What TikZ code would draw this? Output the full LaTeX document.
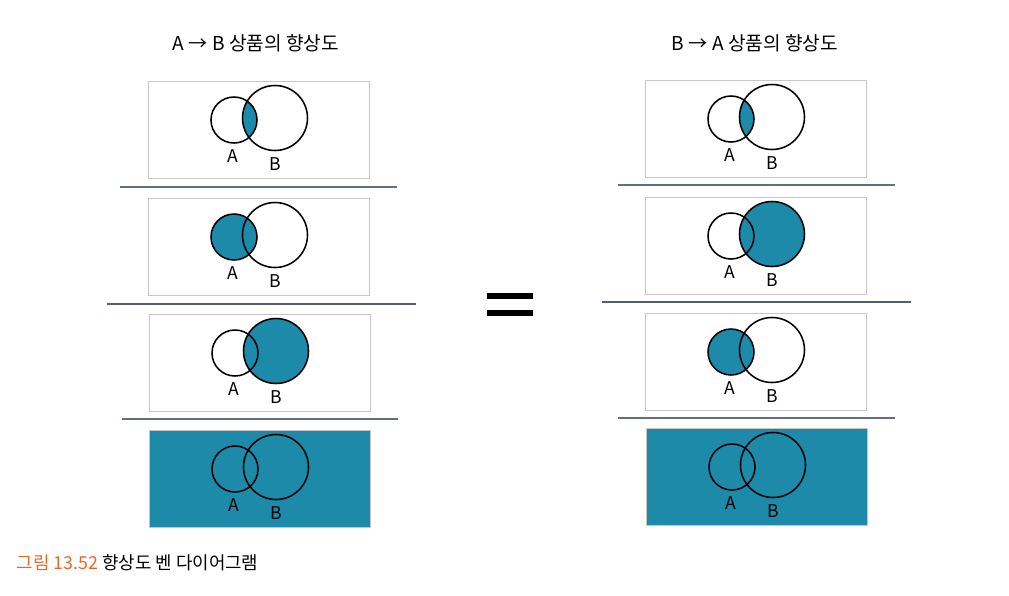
\documentclass[tikz,border=0pt]{standalone}
\usepackage{fontspec}
\setmainfont{Noto Sans CJK KR}
\usetikzlibrary{calc}
\definecolor{venncol}{RGB}{28,138,168}
\definecolor{rulecol}{RGB}{100,110,130}
\definecolor{capcol}{RGB}{232,104,44}
\tikzset{
	framebox/.style={draw=gray!45, line width=0.5pt},
	vennline/.style={draw=black, line width=1.1pt},
	septhin/.style={draw=rulecol, line width=0.9pt},
	septhick/.style={draw=rulecol!85!black, line width=1.8pt},
	lbl/.style={font=\fontsize{12.5}{14}\selectfont, inner sep=0pt}
}

\begin{document}
\begin{tikzpicture}[x=0.025cm, y=-0.025cm]
	\useasboundingbox (0,0) rectangle (1009,595);
	% titles
	\node[font=\fontsize{13.6}{16}\selectfont] (titleL) at (256,43) {A → B 상품의 향상도};
	\node[font=\fontsize{13.6}{16}\selectfont] (titleR) at (755,43) {B → A 상품의 향상도};
	% centres of the circles
	\foreach \bx/\by/\nm in {148/81/L1,148/198/L2,149/314/L3,149/430/L4,645/80/R1,645/197/R2,645/313/R3,646/428/R4}{
		\coordinate (\nm a) at (\bx+86,\by+39);
		\coordinate (\nm b) at (\bx+127,\by+37);
	}
	% shaded parts
	\fill[venncol] (149,430) rectangle (370,527);
	\fill[venncol] (646,428) rectangle (867,525);
	\begin{scope}
		\clip (L1a) circle[radius=23];
		\fill[venncol] (L1b) circle[radius=32.5];
	\end{scope}
	\begin{scope}
		\clip (R1a) circle[radius=23];
		\fill[venncol] (R1b) circle[radius=32.5];
	\end{scope}
	\fill[venncol] (L2a) circle[radius=23];
	\fill[venncol] (L3b) circle[radius=32.5];
	\fill[venncol] (R2b) circle[radius=32.5];
	\fill[venncol] (R3a) circle[radius=23];
	% boxes, circles, labels
	\foreach \bx/\by/\nm in {148/81/L1,148/198/L2,149/314/L3,149/430/L4,645/80/R1,645/197/R2,645/313/R3,646/428/R4}{
		\draw[framebox] (\bx,\by) rectangle ++(221,97);
		\draw[vennline] (\nm a) circle[radius=23];
		\draw[vennline] (\nm b) circle[radius=32.5];
		\node[lbl] (\nm-A) at (\bx+85,\by+75) {A};
		\node[lbl] (\nm-B) at (\bx+127,\by+83) {B};
	}
	% rules between the boxes
	\draw[septhin] (120,187) -- (397,187);
	\draw[septhick] (107,304) -- (416,304);
	\draw[septhin] (122,419) -- (398,419);
	\draw[septhin] (618,185) -- (895,185);
	\draw[septhick] (602,302) -- (911,302);
	\draw[septhin] (618,418) -- (895,418);
	% equals sign
	\fill[black] (487,293) rectangle (533,298.5);
	\fill[black] (487,310) rectangle (533,315.5);
	% caption
	\node[anchor=west, font=\fontsize{12.7}{15}\selectfont] (caption) at (12,563) {\textcolor{capcol}{그림 13.52} 향상도 벤 다이어그램};
\end{tikzpicture}
\end{document}
